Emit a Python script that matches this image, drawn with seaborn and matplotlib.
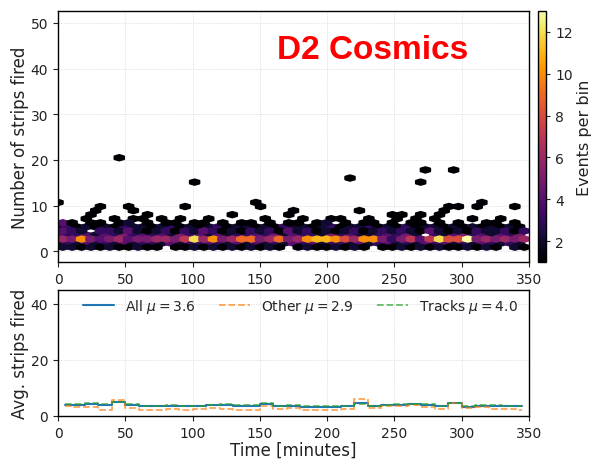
import numpy as np
import matplotlib
matplotlib.use("Agg")
import matplotlib.pyplot as plt
import seaborn as sns

# ---------------- hexbin occupancy (top panel) ----------------
# Hexagon grid: 50 columns of 7 minutes, rows spaced by half a lattice step.
time_span = (0.0, 350.0)
strip_span = (0.0, 21.36)
grid_shape = (50, 12)

# Events per hexagon, one string per hexagon row (row 1 = lowest row).
# characters: 0-9 then a=10, b=11, c=12, d=13
band_rows = [
    "2212121121" "1011212121" "2121012112" "1210112121" "2112121021",  # row 1
    "2324232423" "3242334324" "2423243423" "3242342324" "3423243232",  # row 2
    "65a5456455" "6657c6a569" "956956abba" "86aa535747" "c88d565656",  # row 3
    "4334243534" "3425342423" "3435243325" "3422343520" "3245342435",  # row 4
    "4320332421" "2313243121" "3231423121" "2312323214" "2121322313",  # row 5
    "2312121322" "1231212312" "2121322123" "1223121312" "2121212121",  # row 6
    "4101101201" "0110110101" "1010110120" "1011010110" "1010011010",  # row 7
    "0001001011" "0101001000" "0010001001" "1001001010" "1000100100",  # row 8
    "0001000001" "0000000010" "0000100000" "0000011010" "1000000000",  # row 9
    "0000100010" "0000000000" "0000010000" "0010000000" "0100000000",  # row 10
    "0000100100" "0001000000" "0100000000" "0000000000" "0110100010",  # row 11
    "1000000000" "0000000000" "0100000000" "0000000000" "0000010000",  # row 12
]
# Isolated high-multiplicity events (hexagon row, column)
outlier_row = [17, 17, 18, 20, 20, 23]
outlier_col = [14, 38, 31, 39, 42, 6]

# ---------------- average strips per 10-minute bin (bottom panel) ----------------
bin_time = [5, 15, 25, 35, 45, 55, 65, 75, 85, 95, 105, 115, 125, 135, 145, 155, 165,
            175, 185, 195, 205, 215, 225, 235, 245, 255, 265, 275, 285, 295, 305, 315,
            325, 335, 345]
avg_all = [4.0, 4.0, 4.2, 4.0, 4.9, 4.1, 3.4, 3.5, 3.5, 3.4, 3.5, 3.8, 4.0, 3.7, 3.7,
           4.4, 3.4, 3.5, 3.3, 3.2, 3.3, 3.4, 4.7, 3.4, 3.8, 4.1, 4.2, 4.0, 3.4, 4.6,
           3.2, 3.7, 3.6, 3.5, 3.4]
avg_other = [3.4, 3.2, 3.3, 2.2, 5.6, 3.0, 2.1, 2.2, 2.6, 2.3, 2.4, 2.8, 2.5, 2.2, 2.2,
             3.6, 2.4, 2.8, 2.2, 2.0, 2.3, 2.4, 6.0, 3.0, 3.5, 3.4, 3.8, 3.2, 2.6, 4.5,
             2.8, 3.2, 2.5, 2.4, 2.2]
avg_tracks = [4.2, 4.2, 4.5, 4.3, 4.9, 4.2, 3.7, 3.7, 3.8, 3.6, 3.6, 4.0, 4.3, 4.0, 3.9,
              4.7, 3.6, 3.8, 3.5, 3.4, 3.5, 3.7, 4.4, 3.7, 4.0, 4.4, 4.4, 4.2, 3.6, 4.7,
              3.4, 4.0, 3.8, 3.7, 3.6]
legend_labels = [r"All $\mu = 3.6$", r"Other $\mu = 2.9$", r"Tracks $\mu = 4.0$"]

# ---------------- styling ----------------
sns.set_style("ticks")
plt.rcParams.update({
    "font.family": ["DejaVu Sans"],
    "axes.edgecolor": "black",
    "axes.linewidth": 1.0,
    "xtick.labelsize": 10,
    "ytick.labelsize": 10,
    "axes.labelsize": 12,
    "xtick.color": "#222222",
    "ytick.color": "#222222",
    "axes.labelcolor": "#222222",
    "grid.color": "#dcdcdc",
    "grid.linewidth": 0.6,
    "grid.linestyle": (0, (1.5, 1.5)),
})

fig = plt.figure(figsize=(5.92, 4.60), dpi=100)
ax_top = fig.add_axes([0.098, 0.4283, 0.7956, 0.5457])
ax_cb = fig.add_axes([0.9088, 0.4283, 0.0135, 0.5457])
ax_bot = fig.add_axes([0.098, 0.0935, 0.7956, 0.2739])

# Expand the row strings into hexagon centres with their counts
sx = (time_span[1] - time_span[0]) / grid_shape[0]
sy = (strip_span[1] - strip_span[0]) / grid_shape[1]

cx, cy, cc = [], [], []
for r, row in enumerate(band_rows, start=1):
    for i, ch in enumerate(row):
        n = int(ch, 16)
        if n > 0:
            cx.append(time_span[0] + (i + 0.5 * (r % 2)) * sx)
            cy.append(strip_span[0] + r * sy / 2)
            cc.append(n)
for r, i in zip(outlier_row, outlier_col):
    cx.append(time_span[0] + (i + 0.5 * (r % 2)) * sx)
    cy.append(strip_span[0] + r * sy / 2)
    cc.append(1)

hb = ax_top.hexbin(cx, cy, C=cc, reduce_C_function=np.sum, gridsize=grid_shape,
                   extent=(*time_span, *strip_span), cmap="inferno", vmin=1, vmax=13,
                   linewidths=1.5, edgecolors="face")
ax_top.set_xlim(0, 350)
ax_top.set_ylim(-2.35, 52.6)
ax_top.set_xticks(np.arange(0, 351, 50))
ax_top.set_yticks(np.arange(0, 51, 10))
ax_top.set_ylabel("Number of strips fired", labelpad=1)
ax_top.grid(True)
ax_top.set_axisbelow(True)
ax_top.text(0.669, 0.845, "D2 Cosmics", transform=ax_top.transAxes, ha="center",
            va="center", color="#ff0000", fontsize=24, fontweight="bold",
            family=["Liberation Sans", "DejaVu Sans"])

cb = fig.colorbar(hb, cax=ax_cb)
cb.set_ticks([2, 4, 6, 8, 10, 12])
cb.set_label("Events per bin", fontsize=11.5, labelpad=3)
cb.ax.tick_params(labelsize=10, length=3)
cb.outline.set_linewidth(1.0)

# Bottom panel: step curves of the per-bin mean
sns.lineplot(x=bin_time, y=avg_all, ax=ax_bot, color="#1f77b4", lw=1.5,
             drawstyle="steps-mid", label=legend_labels[0])
sns.lineplot(x=bin_time, y=avg_other, ax=ax_bot, color="#ff7f0e", lw=1.3,
             alpha=0.7, linestyle="--", drawstyle="steps-mid", label=legend_labels[1])
sns.lineplot(x=bin_time, y=avg_tracks, ax=ax_bot, color="#2ca02c", lw=1.3,
             alpha=0.7, linestyle="--", drawstyle="steps-mid", label=legend_labels[2])
ax_bot.set_xlim(0, 350)
ax_bot.set_ylim(0, 45)
ax_bot.set_xticks(np.arange(0, 351, 50))
ax_bot.set_yticks([0, 20, 40])
ax_bot.set_xlabel("Time [minutes]", labelpad=1)
ax_bot.set_ylabel("Avg. strips fired", labelpad=1)
ax_bot.grid(True)
ax_bot.set_axisbelow(True)
ax_bot.legend(loc="upper center", bbox_to_anchor=(0.515, 1.0), ncol=3, frameon=False,
              fontsize=10, handlelength=2.2, columnspacing=1.7, borderaxespad=0.1)

for ax in (ax_top, ax_bot):
    ax.tick_params(length=3.5, width=0.8)

fig.savefig("out.png", dpi=100)
